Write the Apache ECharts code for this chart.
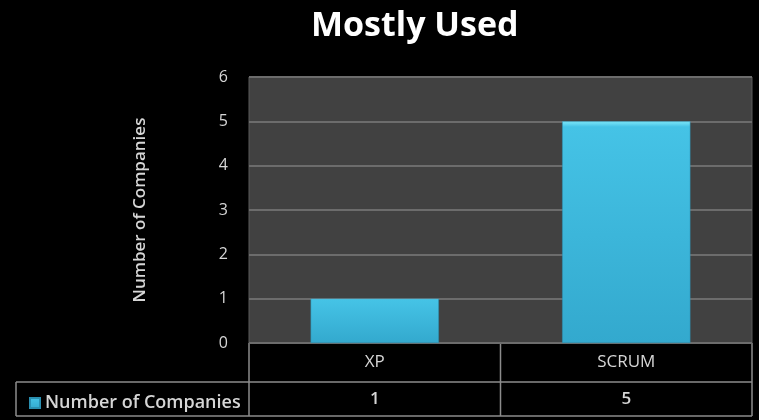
<!DOCTYPE html>
<html><head><meta charset="utf-8">
<script src="https://cdn.jsdelivr.net/npm/echarts@6/dist/echarts.min.js"></script>
<style>html,body{margin:0;padding:0;background:#000;}#c{width:759px;height:420px;}</style>
</head><body><div id="c"></div>
<script>
const categories = ['XP', 'SCRUM'];
const seriesName = 'Number of Companies';
const values = [1, 5];
const yTicks = [0, 1, 2, 3, 4, 5, 6];

const chart = echarts.init(document.getElementById('c'), null, {renderer: 'canvas'});
const G = {left: 249, right: 7, top: 77, bottom: 77};
const W = 759, H = 420;
const gx0 = G.left, gx1 = W - G.right, gy1 = H - G.bottom;
const row1 = gy1 + 39, row2 = H - 4;
const lineStyle = {stroke: '#8c8c8c', lineWidth: 1.5};
const mid = (gx0 + gx1) / 2;
const font = '"Open Sans", sans-serif';

chart.setOption({
  backgroundColor: '#000',
  animation: false,
  title: {
    text: 'Mostly Used', left: 306, top: 4,
    textStyle: {color: '#fff', fontSize: 34, fontWeight: 'bold', fontFamily: font}
  },
  legend: {
    data: [seriesName], left: 24, top: 389, icon: 'rect', itemWidth: 10, itemHeight: 10, itemGap: 7,
    textStyle: {color: '#d6d6d6', fontSize: 18, fontWeight: 600, fontFamily: font}
  },
  grid: {left: G.left, right: G.right, top: G.top, bottom: G.bottom, show: true,
    backgroundColor: '#414141', borderColor: '#5a5a5a', borderWidth: 1},
  xAxis: [{
    type: 'category', data: categories, position: 'bottom',
    axisLine: {show: false}, axisTick: {show: false},
    axisLabel: {color: '#d6d6d6', fontSize: 17, margin: 11, fontFamily: font}
  }, {
    type: 'category', data: values.map(String), position: 'bottom', offset: 38,
    axisLine: {show: false}, axisTick: {show: false},
    axisLabel: {color: '#d6d6d6', fontSize: 17, fontWeight: 600, margin: 10, fontFamily: font}
  }],
  yAxis: {
    type: 'value', min: yTicks[0], max: yTicks[yTicks.length - 1], interval: 1,
    name: seriesName, nameLocation: 'middle', nameGap: 100, nameRotate: 90,
    nameTextStyle: {color: '#d6d6d6', fontSize: 17, fontWeight: 600, fontFamily: font},
    axisLine: {show: false}, axisTick: {show: false},
    axisLabel: {color: '#d6d6d6', fontSize: 16, margin: 21, fontFamily: font},
    splitLine: {lineStyle: {color: '#6c6c6c', width: 2}}
  },
  series: [{
    name: seriesName, type: 'bar', data: values, barWidth: '51%', xAxisIndex: 0,
    itemStyle: {
      color: new echarts.graphic.LinearGradient(0, 0, 0, 1, [
        {offset: 0, color: '#7fe8fa'}, {offset: 0.025, color: '#45c3e6'},
        {offset: 1, color: '#33a9ce'}
      ]),
      borderColor: '#2a8fb0', borderWidth: 0.5
    }
  }],
  graphic: [
    {type: 'line', shape: {x1: gx0, y1: gy1, x2: gx1, y2: gy1}, style: lineStyle},
    {type: 'line', shape: {x1: 16, y1: row1, x2: gx1, y2: row1}, style: lineStyle},
    {type: 'line', shape: {x1: 16, y1: row2, x2: gx1, y2: row2}, style: lineStyle},
    {type: 'line', shape: {x1: 16, y1: row1, x2: 16, y2: row2}, style: lineStyle},
    {type: 'line', shape: {x1: gx0, y1: gy1, x2: gx0, y2: row2}, style: lineStyle},
    {type: 'line', shape: {x1: mid, y1: gy1, x2: mid, y2: row2}, style: lineStyle},
    {type: 'line', shape: {x1: gx1, y1: gy1, x2: gx1, y2: row2}, style: lineStyle}
  ]
});
</script></body></html>
